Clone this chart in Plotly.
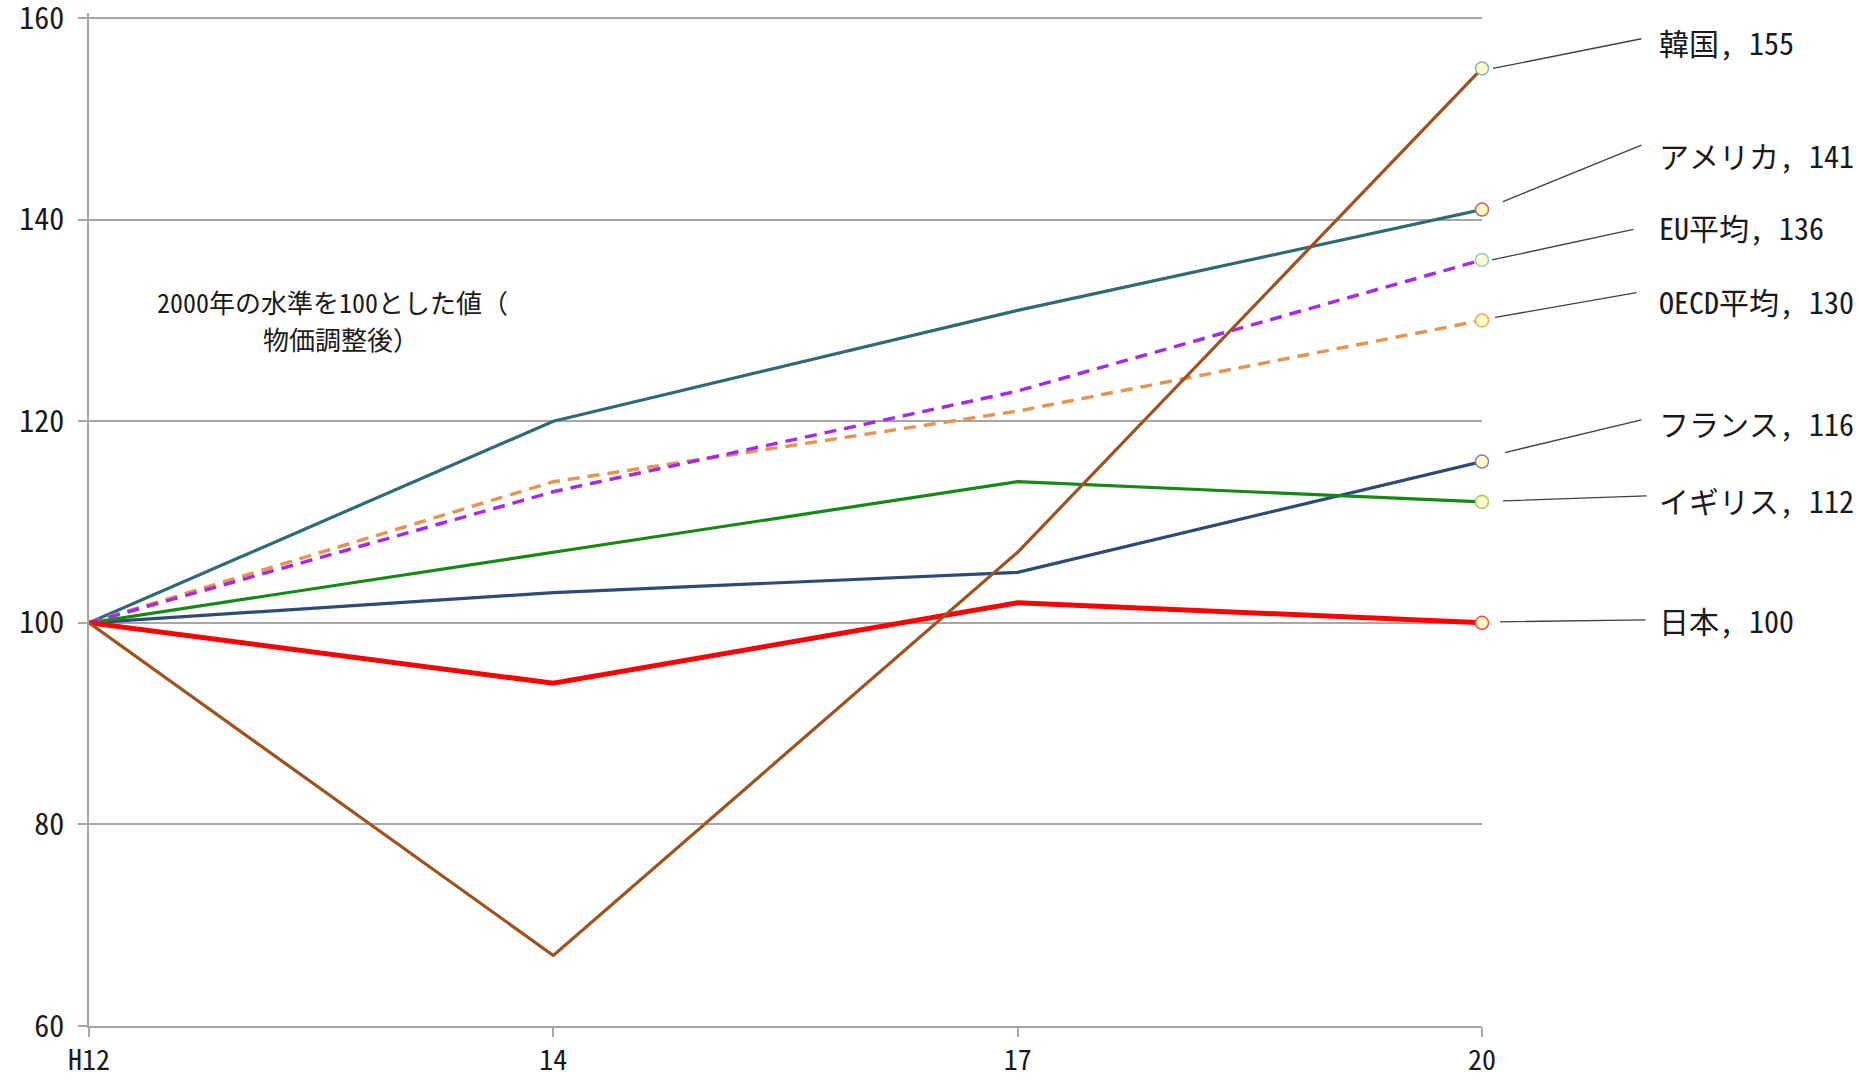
import plotly.graph_objects as go

# Fiscal-year categories (Heisei era)
years = ["H12", "14", "17", "20"]

# Index values, 2000 = 100 (price-adjusted)
japan = [100, 94, 102, 100]
korea = [100, 67, 107, 155]
usa = [100, 120, 131, 141]
eu_avg = [100, 113, 123, 136]
oecd_avg = [100, 114, 121, 130]
france = [100, 103, 105, 116]
uk = [100, 107, 114, 112]

y_ticks = [60, 80, 100, 120, 140, 160]

FONT = "Noto Sans Mono CJK JP, Noto Sans CJK JP, sans-serif"
xpos = list(range(len(years)))

# name, values, line colour, line width, dash, marker outline colour,
# label offset (px), leader line (dx0, dy0, dx1, dy1) in px from the end point
series = [
    ("フランス", france, "#2E4A78", 3.2, "solid", "#8C80A8", 39, (23, 9, 161, 42)),
    ("イギリス", uk, "#148A14", 3.2, "solid", "#A9C864", 2, (21, 1, 166, 6)),
    ("アメリカ", usa, "#2F6B75", 3.2, "solid", "#C8645A", 55, (21, 8, 161, 65)),
    ("OECD平均", oecd_avg, "#E5954F", 3.5, "12px,8px", "#F0A860", 19, (13, 3, 156, 28)),
    ("EU平均", eu_avg, "#A52AF0", 3.5, "12px,8px", "#9CC4D8", 33, (10, 0, 153, 31)),
    ("日本", japan, "#FF0000", 5, "solid", "#FF4A4A", 3, (18, 1, 165, 3)),
    ("韓国", korea, "#A0521E", 3.2, "solid", "#7FB9B9", 26, (11, 0, 161, 30)),
]

fig = go.Figure()

for name, vals, color, width, dash, mcolor, _, _ in series:
    fig.add_trace(go.Scatter(
        x=xpos, y=vals, mode="lines", name=name,
        line=dict(color=color, width=width, dash=dash),
        hoverinfo="skip", showlegend=False, cliponaxis=False,
    ))

# End-point markers (last category only)
for name, vals, color, width, dash, mcolor, _, _ in series:
    fig.add_trace(go.Scatter(
        x=[xpos[-1]], y=[vals[-1]], mode="markers",
        marker=dict(size=13, color="#FFFFC8", line=dict(color=mcolor, width=1.6)),
        hoverinfo="skip", showlegend=False, cliponaxis=False,
    ))

annotations = []
for name, vals, color, width, dash, mcolor, yshift, lead in series:
    last = vals[-1]
    annotations.append(dict(
        x=xpos[-1], y=last, xref="x", yref="y",
        text=f"{name}, {last}", showarrow=False,
        xanchor="left", yanchor="middle", xshift=175, yshift=yshift,
        font=dict(family=FONT, size=30, color="#1A1A1A"),
    ))
    # leader line from the end point towards its label
    dx0, dy0, dx1, dy1 = lead
    annotations.append(dict(
        x=xpos[-1], y=last, xref="x", yref="y",
        xshift=dx0, yshift=dy0,
        ax=dx1 - dx0, ay=-(dy1 - dy0), axref="pixel", ayref="pixel",
        text="", showarrow=True, arrowhead=0, arrowwidth=1.3,
        arrowcolor="#404040", standoff=0, startstandoff=0,
    ))

for text, xp, yp in [("2000年の水準を100とした値（", 0.175, 0.715),
                     ("物価調整後）", 0.181, 0.679)]:
    annotations.append(dict(
        x=xp, y=yp, xref="paper", yref="paper",
        text=text, showarrow=False, xanchor="center", yanchor="middle",
        font=dict(family=FONT, size=26, color="#1A1A1A"),
    ))

fig.update_layout(
    width=1858, height=1079,
    margin=dict(l=89, r=376, t=13, b=53),
    paper_bgcolor="white", plot_bgcolor="white",
    font=dict(family=FONT, size=30, color="#1A1A1A"),
    annotations=annotations,
    xaxis=dict(
        range=[0, len(years) - 1], tickvals=xpos, ticktext=years,
        showgrid=False, zeroline=False, automargin=False,
        showline=True, linecolor="#A6A6A6", linewidth=1.5,
        ticks="outside", ticklen=9, tickcolor="#A6A6A6", tickwidth=1.5,
        tickfont=dict(family=FONT, size=28, color="#1A1A1A"),
    ),
    yaxis=dict(
        range=[60, 160.5], tickvals=y_ticks, automargin=False,
        showgrid=True, gridcolor="#A6A6A6", gridwidth=1.5, zeroline=False,
        showline=True, linecolor="#A6A6A6", linewidth=1.5,
        ticks="outside", ticklen=9, tickcolor="#A6A6A6", tickwidth=1.5,
        ticklabelstandoff=8, ticklabeloverflow="allow",
        tickfont=dict(family=FONT, size=30, color="#1A1A1A"),
    ),
)

fig.write_html("out.html")
